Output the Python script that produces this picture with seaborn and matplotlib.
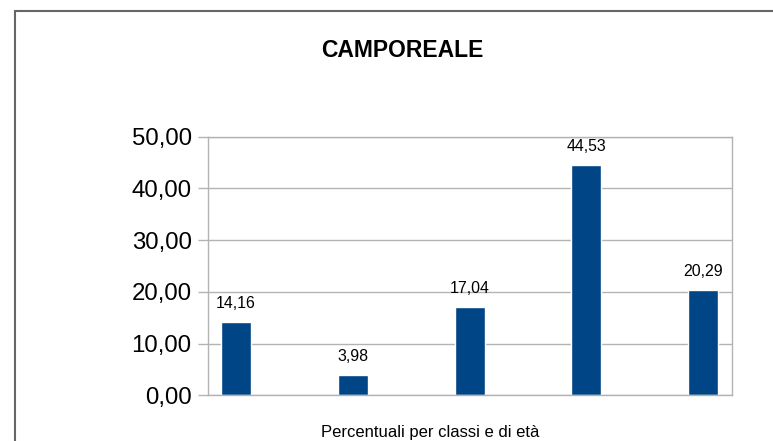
import pandas as pd
import matplotlib.pyplot as plt
import seaborn as sns
from matplotlib.patches import Rectangle

# dati
classi = ["0-14", "15-24", "25-44", "45-64", "65+"]
percentuali = [14.16, 3.98, 17.04, 44.53, 20.29]
y_ticks = [0, 10, 20, 30, 40, 50]

df = pd.DataFrame({"Classe": classi, "Percentuale": percentuali})

sns.set_style("white")
plt.rcParams['font.family'] = ['Liberation Sans', 'DejaVu Sans']
plt.rcParams['text.color'] = 'black'

fig = plt.figure(figsize=(7.73, 4.41), dpi=100)
ax = fig.add_axes([0.2687, 0.1036, 0.947 - 0.2687, 0.690 - 0.1036])

sns.barplot(data=df, x="Classe", y="Percentuale", color="#004586",
            saturation=1, width=0.257, ax=ax)

ax.set_xlim(-0.242, 4.248)
ax.set_ylim(0, 50)
ax.set_yticks(y_ticks)
ax.set_yticklabels([f"{v:.2f}".replace(".", ",") for v in y_ticks], fontsize=17.3)
ax.set_xticks([])
ax.set_xlabel("")
ax.set_ylabel("")

ax.grid(axis="y", color="#b3b3b3", linewidth=1)
ax.set_axisbelow(True)
for s in ax.spines.values():
    s.set_color("#b3b3b3")
    s.set_linewidth(1)
ax.tick_params(axis="y", left=True, length=7.2, width=1, color="#b3b3b3",
               labelcolor="black", pad=4.3)

ax.bar_label(ax.containers[0],
             labels=[f"{v:.2f}".replace(".", ",") for v in percentuali],
             padding=8, fontsize=11.4, color="black")

fig.text(402.5 / 773, 1 - 50.5 / 441, "CAMPOREALE", ha="center", va="center",
         fontsize=16.5, fontweight="bold", color="black")
fig.text(430 / 773, 1 - 432 / 441, "Percentuali per classi e di età",
         ha="center", va="center", fontsize=12, color="black")

# cornice esterna
fig.patches.append(Rectangle((15 / 773, -0.05), 1.0, 1 - 11 / 441 + 0.05,
                             transform=fig.transFigure, fill=False,
                             edgecolor="#666666", linewidth=1.5))

plt.savefig("out.png", dpi=100)
